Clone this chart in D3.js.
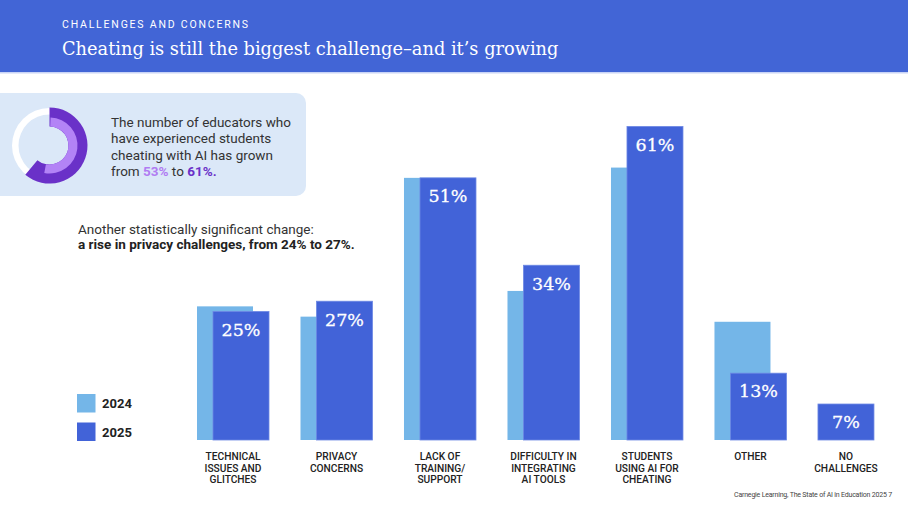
<!DOCTYPE html>
<html>
<head>
<meta charset="utf-8">
<script src="https://cdn.jsdelivr.net/npm/d3@7"></script>
<style>
  body { margin: 0; background: #fff; }
  svg { display: block; }
</style>
</head>
<body>
<div id="chart"></div>
<script>
// values
const categories = [
    ["TECHNICAL", "ISSUES AND", "GLITCHES"],
    ["PRIVACY", "CONCERNS"],
    ["LACK OF", "TRAINING/", "SUPPORT"],
    ["DIFFICULTY IN", "INTEGRATING", "AI TOOLS"],
    ["STUDENTS", "USING AI FOR", "CHEATING"],
    ["OTHER"],
    ["NO", "CHALLENGES"]
];
const values2024 = [26, 24, 51, 29, 53, 23, null];
const values2025 = [25, 27, 51, 34, 61, 13, 7];
const years = ["2024", "2025"];
const cheating = [53, 61];

const W = 908, H = 511;
const light = "#74b6e8", dark = "#4263d8";

const svg = d3.select("#chart").append("svg")
    .attr("width", W)
    .attr("height", H);

// header band
svg.append("rect").attr("x", 0).attr("y", 0).attr("width", W).attr("height", 72).attr("fill", "#4265d6");
svg.append("rect").attr("x", 0).attr("y", 72).attr("width", W).attr("height", 1.5).attr("fill", "#c9d4f6");
svg.append("text")
    .attr("x", 62).attr("y", 27.5)
    .attr("fill", "#fff")
    .attr("font-family", "Roboto, sans-serif")
    .attr("font-size", 10.5)
    .attr("letter-spacing", 1.8)
    .text("CHALLENGES AND CONCERNS");

// fit the serif title to the width it has in the picture
function fitText(sel, targetWidth) {
    const size = +sel.attr("font-size");
    const w = sel.node().getComputedTextLength();
    sel.attr("font-size", size * targetWidth / w);
}
const title = svg.append("text")
    .attr("x", 62).attr("y", 55)
    .attr("fill", "#fff")
    .attr("font-family", "'DejaVu Serif', serif")
    .attr("font-size", 20)
    .text("Cheating is still the biggest challenge\u2013and it\u2019s growing");
fitText(title, 497);

// callout box
svg.append("rect")
    .attr("x", -12).attr("y", 93).attr("width", 318).attr("height", 103)
    .attr("rx", 10)
    .attr("fill", "#dbe8f8");

const cx = 49.5, cy = 145.5;
const pie = d3.scaleLinear().domain([0, 100]).range([0, 2 * Math.PI]);
const donut = svg.append("g").attr("transform", `translate(${cx},${cy})`);
donut.append("path")
    .attr("d", d3.arc()({innerRadius: 31, outerRadius: 37.5, startAngle: 0, endAngle: 2 * Math.PI}))
    .attr("fill", "#fff");
donut.append("path")
    .attr("d", d3.arc()({innerRadius: 19, outerRadius: 38, startAngle: 0, endAngle: pie(cheating[1])}))
    .attr("fill", "#6a31c8");
donut.append("path")
    .attr("d", d3.arc()({innerRadius: 19, outerRadius: 28, startAngle: pie(0.6), endAngle: pie(cheating[0])}))
    .attr("fill", "#b383f6");

const boxLines = ["The number of educators who", "have experienced students", "cheating with AI has grown"];
svg.append("g").selectAll("text")
    .data(boxLines)
    .join("text")
    .attr("x", 111)
    .attr("y", (d, i) => 127 + i * 16.3)
    .attr("fill", "#333")
    .attr("font-family", "Roboto, sans-serif")
    .attr("font-size", 13.5)
    .text(d => d);
const last = svg.append("text")
    .attr("x", 111).attr("y", 127 + 3 * 16.3)
    .attr("fill", "#333")
    .attr("font-family", "Roboto, sans-serif")
    .attr("font-size", 13.5);
last.append("tspan").text("from ");
last.append("tspan").attr("fill", "#b07cf2").attr("font-weight", "bold").text(cheating[0] + "%");
last.append("tspan").text(" to ");
last.append("tspan").attr("fill", "#6a31c8").attr("font-weight", "bold").text(cheating[1] + "%.");

svg.append("text")
    .attr("x", 78).attr("y", 234)
    .attr("fill", "#333")
    .attr("font-family", "Roboto, sans-serif")
    .attr("font-size", 13.5)
    .text("Another statistically significant change:");
svg.append("text")
    .attr("x", 78).attr("y", 249)
    .attr("fill", "#222")
    .attr("font-family", "Roboto, sans-serif")
    .attr("font-size", 13.5)
    .attr("font-weight", "bold")
    .text("a rise in privacy challenges, from 24% to 27%.");

// bars
const x = d3.scaleBand()
    .domain(d3.range(categories.length))
    .range([197, 890])
    .paddingInner(0.304)
    .paddingOuter(0);
const y = d3.scaleLinear().domain([0, 100]).range([440, -74]);
const barW = 56, shift = 16;

const groups = svg.append("g").selectAll("g")
    .data(categories.map((c, i) => ({c, a: values2024[i], b: values2025[i], i})))
    .join("g")
    .attr("transform", d => `translate(${x(d.i)},0)`);

groups.filter(d => d.a != null).append("rect")
    .attr("x", 0)
    .attr("y", d => y(d.a))
    .attr("width", barW)
    .attr("height", d => y(0) - y(d.a))
    .attr("fill", light);

const darkX = d => d.a != null ? shift : 0;
groups.append("rect")
    .attr("x", darkX)
    .attr("y", d => y(d.b))
    .attr("width", barW)
    .attr("height", d => y(0) - y(d.b))
    .attr("fill", dark)
    .attr("stroke", "#6d88e4")
    .attr("stroke-width", 0.8);

groups.append("text")
    .attr("x", d => darkX(d) + barW / 2)
    .attr("y", d => y(d.b) + 18)
    .attr("dy", "0.36em")
    .attr("text-anchor", "middle")
    .attr("fill", "#fff")
    .attr("stroke", "#fff")
    .attr("stroke-width", 0.3)
    .attr("font-family", "'DejaVu Serif', serif")
    .attr("font-size", 17.5)
    .text(d => d.b + "%");

groups.append("text")
    .attr("text-anchor", "middle")
    .attr("fill", "#222")
    .attr("font-family", "Roboto, sans-serif")
    .attr("font-size", 10.2)
    .attr("font-weight", 500)
    .selectAll("tspan")
    .data(d => d.c.map(t => ({t, mid: d.a != null ? (shift + barW) / 2 : barW / 2})))
    .join("tspan")
    .attr("x", d => d.mid)
    .attr("y", (d, i) => 460 + i * 11.6)
    .text(d => d.t);

// legend
const legend = svg.append("g").selectAll("g")
    .data(years)
    .join("g")
    .attr("transform", (d, i) => `translate(77,${394 + i * 28.5})`);
legend.append("rect")
    .attr("width", 18.5).attr("height", 18.5)
    .attr("fill", (d, i) => i ? dark : light);
legend.append("text")
    .attr("x", 25).attr("y", 9.5)
    .attr("dy", "0.36em")
    .attr("fill", "#222")
    .attr("font-family", "Roboto, sans-serif")
    .attr("font-size", 13)
    .attr("font-weight", "bold")
    .text(d => d);

// footer
svg.append("text")
    .attr("x", 892).attr("y", 497)
    .attr("text-anchor", "end")
    .attr("fill", "#444")
    .attr("font-family", "Roboto, sans-serif")
    .attr("font-size", 7)
    .attr("letter-spacing", -0.2)
    .text("Carnegie Learning, The State of AI in Education 2025   7");
</script>
</body>
</html>
